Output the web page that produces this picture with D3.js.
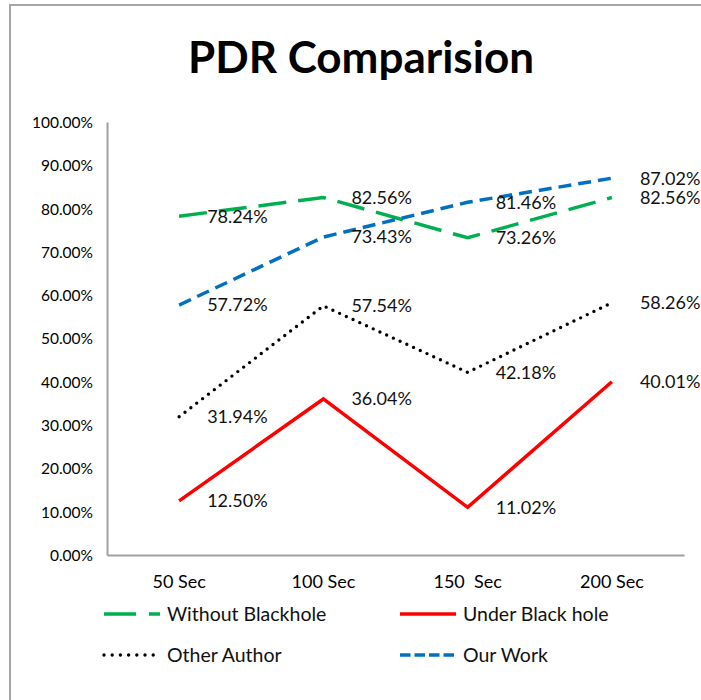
<!DOCTYPE html>
<html>
<head>
<meta charset="utf-8">
<script src="https://cdn.jsdelivr.net/npm/d3@7"></script>
<style>
  html, body { margin: 0; padding: 0; background: #fff; }
  svg { display: block; }
</style>
</head>
<body>
<svg id="chart" width="701" height="700"></svg>
<script>
const categories = ["50 Sec", "100 Sec", "150  Sec", "200 Sec"];
const withoutBlackhole = [78.24, 82.56, 73.26, 82.56];
const underBlackHole = [12.50, 36.04, 11.02, 40.01];
const otherAuthor = [31.94, 57.54, 42.18, 58.26];
const ourWork = [57.72, 73.43, 81.46, 87.02];
const yTicks = [0, 10, 20, 30, 40, 50, 60, 70, 80, 90, 100];
const seriesNames = ["Without Blackhole", "Under Black hole", "Other Author", "Our Work"];

const series = [
  { name: seriesNames[0], values: withoutBlackhole, color: "#00b050", dash: "28 12", legendDash: "32 13", width: 3.5, cap: "butt" },
  { name: seriesNames[1], values: underBlackHole, color: "#ff0000", dash: null, legendDash: null, width: 3.5, cap: "butt" },
  { name: seriesNames[2], values: otherAuthor, color: "#000000", dash: "0 7.4", legendDash: "0 8.2", width: 3.4, cap: "round" },
  { name: seriesNames[3], values: ourWork, color: "#0070c0", dash: "13 7", legendDash: "10.5 4", width: 3.5, cap: "butt" }
];

const FONT = "Lato, Carlito, Calibri, 'Open Sans', sans-serif";
const svg = d3.select("#chart");

// frame
svg.append("rect").attr("x", 10).attr("y", 5).attr("width", 800).attr("height", 800)
  .attr("fill", "#fff").attr("stroke", "#a6a6a6").attr("stroke-width", 2);

// title
svg.append("text").attr("x", 361).attr("y", 73).attr("text-anchor", "middle")
  .style("font-family", FONT).style("font-weight", "700").style("font-size", "44px")
  .attr("fill", "#000").text("PDR Comparision");

const x = d3.scaleBand().domain(categories).range([107, 684]).padding(0);
const cx = c => x(c) + x.bandwidth() / 2;
const y = d3.scaleLinear().domain([0, 100]).range([555, 122]);

// y axis
const yAxis = svg.append("g").attr("transform", "translate(107,0)")
  .call(d3.axisLeft(y).tickValues(yTicks).tickSize(0).tickPadding(14)
    .tickFormat(d => d.toFixed(2) + "%"));
yAxis.select(".domain").attr("stroke", "#a0a0a0").attr("stroke-width", 2);
yAxis.selectAll("text").style("font-family", FONT).style("font-size", "15.5px").attr("fill", "#000")
  .attr("dy", "0.35em");

// x axis
const xAxis = svg.append("g").attr("transform", "translate(0,555)")
  .call(d3.axisBottom(x).tickSize(0).tickPadding(0));
xAxis.select(".domain").attr("stroke", "#a0a0a0").attr("stroke-width", 2);
xAxis.selectAll("text").style("font-family", FONT).style("font-size", "18px")
  .style("white-space", "pre").attr("fill", "#000").attr("y", 27).attr("dy", "0.35em");

// lines
const line = d3.line().x((d, i) => cx(categories[i])).y(d => y(d));
series.forEach(s => {
  svg.append("path").datum(s.values).attr("d", line)
    .attr("fill", "none").attr("stroke", s.color).attr("stroke-width", s.width)
    .attr("stroke-linecap", s.cap).attr("stroke-linejoin", "miter")
    .attr("stroke-dasharray", s.dash);
});

// data labels
series.forEach(s => {
  svg.append("g").selectAll("text").data(s.values).join("text")
    .attr("x", (d, i) => cx(categories[i]) + 28)
    .attr("y", d => y(d))
    .attr("dy", "0.35em")
    .style("font-family", FONT).style("font-size", "18px").attr("fill", "#111")
    .text(d => d.toFixed(2) + "%");
});

// legend
const legendPos = [
  { x: 104, y: 614 }, { x: 400, y: 614 }, { x: 104, y: 655 }, { x: 400, y: 655 }
];
series.forEach((s, i) => {
  const p = legendPos[i];
  const g = svg.append("g").attr("transform", `translate(${p.x},${p.y})`);
  g.append("line").attr("x1", 0).attr("x2", s.cap === "round" ? 54 : 56).attr("y1", 0).attr("y2", 0)
    .attr("stroke", s.color).attr("stroke-width", s.width)
    .attr("stroke-linecap", s.cap).attr("stroke-dasharray", s.legendDash);
  g.append("text").attr("x", 63).attr("y", 0).attr("dy", "0.35em")
    .style("font-family", FONT).style("font-size", "19.5px").attr("fill", "#111").text(s.name);
});
</script>
</body>
</html>
